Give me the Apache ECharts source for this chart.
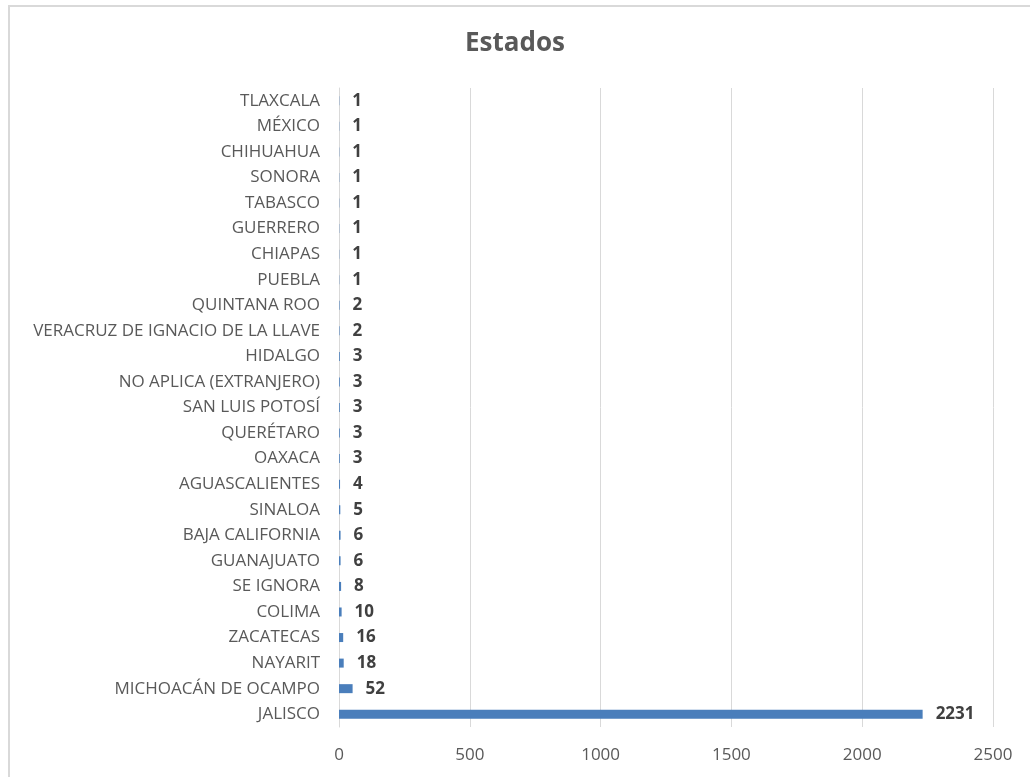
<!DOCTYPE html>
<html><head><meta charset="utf-8">
<script src="https://cdn.jsdelivr.net/npm/echarts@6/dist/echarts.min.js"></script>
<style>
html,body{margin:0;padding:0;background:#fff;}
#frame{position:absolute;left:8px;top:5px;width:1100px;height:900px;border-left:2px solid #d9d9d9;border-top:2px solid #d9d9d9;box-sizing:border-box;}
#c{position:absolute;left:0;top:0;width:1030px;height:777px;}
</style></head>
<body>
<div id="frame"></div>
<div id="c"></div>
<script>
const categories = ["TLAXCALA","MÉXICO","CHIHUAHUA","SONORA","TABASCO","GUERRERO","CHIAPAS","PUEBLA","QUINTANA ROO","VERACRUZ DE IGNACIO DE LA LLAVE","HIDALGO","NO APLICA (EXTRANJERO)","SAN LUIS POTOSÍ","QUERÉTARO","OAXACA","AGUASCALIENTES","SINALOA","BAJA CALIFORNIA","GUANAJUATO","SE IGNORA","COLIMA","ZACATECAS","NAYARIT","MICHOACÁN DE OCAMPO","JALISCO"];
const values = [1,1,1,1,1,1,1,1,2,2,3,3,3,3,3,4,5,6,6,8,10,16,18,52,2231];
const title = "Estados";
const font = "'Open Sans', 'Liberation Sans', sans-serif";
const chart = echarts.init(document.getElementById('c'), null, {renderer:'canvas'});
chart.setOption({
  backgroundColor: 'transparent',
  animation: false,
  title: {text: title, left: 'center', top: 31, padding: 0, textStyle: {fontFamily: font, fontSize: 26, fontWeight: 'bold', color: '#595959'}},
  grid: {left: 339, right: 37, top: 88, bottom: 50},
  xAxis: {type: 'value', min: 0, max: 2500, interval: 500,
    axisLine: {show: false}, axisTick: {show: false},
    splitLine: {lineStyle: {color: '#d9d9d9', width: 1}},
    axisLabel: {fontFamily: font, fontSize: 17, color: '#595959', margin: 20, formatter: v => String(v)}},
  yAxis: {type: 'category', data: categories, inverse: true,
    axisLine: {show: true, lineStyle: {color: '#d9d9d9'}}, axisTick: {show: false},
    axisLabel: {fontFamily: font, fontSize: 17, color: '#595959', margin: 19}},
  series: [{type: 'bar', data: values, barWidth: 9, itemStyle: {color: '#4a7ebb'},
    label: {show: true, position: 'right', distance: 13, fontFamily: font, fontSize: 17, fontWeight: 'bold', color: '#404040'}}]
});
</script>
</body></html>
